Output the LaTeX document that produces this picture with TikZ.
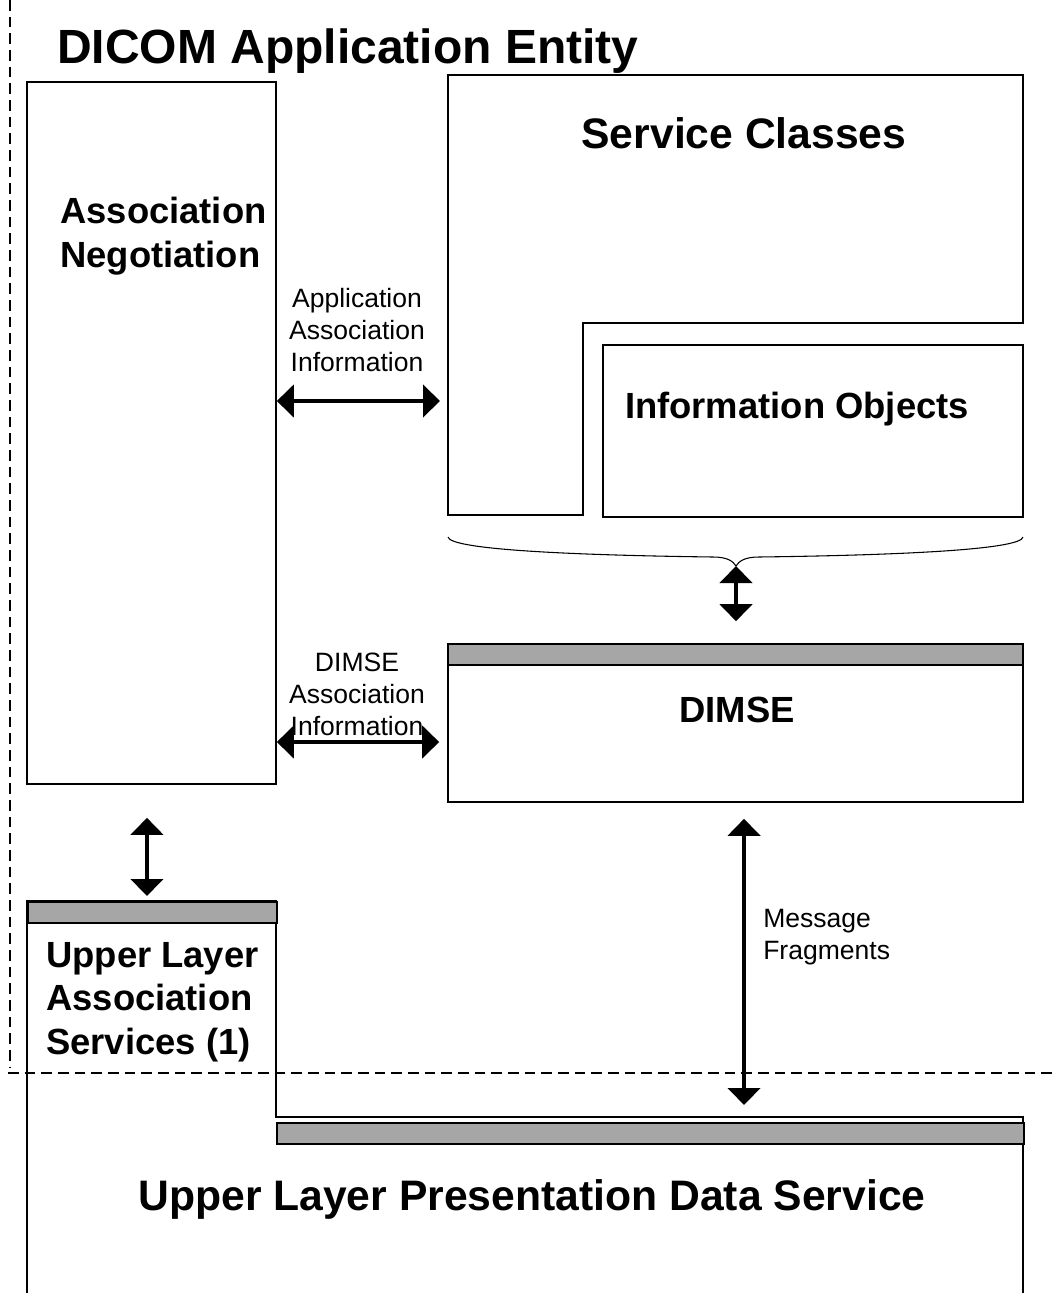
\documentclass[tikz,border=0pt]{standalone}
\usepackage{fontspec}
\setmainfont{Liberation Sans}
\usetikzlibrary{calc}
\usetikzlibrary{arrows.meta}

\definecolor{barfill}{RGB}{166,166,166}
\def\px{0.75pt}
\tikzset{
  box/.style={draw, line width=1.2pt, inner sep=0pt},
  bar/.style={draw, line width=1.2pt, fill=barfill, inner sep=0pt, anchor=north west},
  edge/.style={draw, line width=1.2pt},
  frame/.style={line width=1.1pt, dash pattern=on 8pt off 4.5pt},
  dblarrow/.style={line width=3.5pt, {Triangle[length=12.75pt,width=24pt]}-{Triangle[length=12.75pt,width=24pt]}},
  hugetxt/.style={font=\bfseries\fontsize{36}{43}\selectfont, inner sep=0pt},
  bigtxt/.style={font=\bfseries\fontsize{32}{38}\selectfont, inner sep=0pt},
  midtxt/.style={font=\bfseries\fontsize{27.3}{32.8}\selectfont, inner sep=0pt, align=left},
  smalltxt/.style={font=\fontsize{19.9}{24}\selectfont, inner sep=0pt, align=center}
}

\begin{document}
\begin{tikzpicture}[x=0.75pt,y=-0.75pt]
\useasboundingbox (0,0) rectangle (1055,1293);
\draw[frame] (10,0) -- (10,1068);
\draw[frame] (8,1073) -- (1055,1073);
\node[hugetxt, anchor=base west] (title) at (57,63) {DICOM Application Entity};

\node[box, minimum width=249*\px, minimum height=702*\px] (assoc) at (151.5,433) {};
\node[midtxt, anchor=west] (assoc_t) at (60,236) {Association\\Negotiation};

\coordinate (sc_nw) at (448,75);
\coordinate (sc_w) at (448,401);
\draw[edge] (sc_nw) -- (1023,75) -- (1023,323) -- (583,323) -- (583,515) -- (448,515) -- cycle;
\node[bigtxt] (sc) at (744,133) {Service Classes};
\node[box, minimum width=420*\px, minimum height=172*\px] (io) at (813,431) {};
\node[midtxt] (io_t) at (797,409) {Information Objects};

\coordinate (tip) at (736,566);
\draw[line width=0.8pt] (448,537) .. controls (450,549) and (560,555) .. (713,557)
  .. controls (727,557) and (733,561) .. (tip)
  .. controls (739,561) and (745,557) .. (759,557)
  .. controls (912,555) and (1021,549) .. (1023,537);

\node[box, minimum width=575*\px, minimum height=158*\px] (dimse) at (735.5,723) {};
\node[bar, minimum width=575*\px, minimum height=21*\px] (dimse_bar) at (dimse.north west) {};
\node[midtxt] (dimse_t) at (737,710) {DIMSE};

\draw[dblarrow, shorten >=16.5pt] (tip) -- (tip |- dimse.north);
\draw[dblarrow, shorten >=6pt] ($(assoc.east)+(0,-32)$) -- (sc_w);
\draw[dblarrow, shorten >=6pt] ($(assoc.east)+(0,309)$) -- ($(dimse.west)+(0,19)$);
\node[smalltxt] (app_l) at (357,330) {Application\\Association\\Information};
\node[smalltxt] (dimse_l) at (357,694) {DIMSE\\Association\\Information};

\coordinate (ul_nw) at (27,901);
\coordinate (ul_step) at (276,1117);
\draw[edge] (27,1293) -- (ul_nw) -| (ul_step) -| (1023,1293);
\node[bar, minimum width=249*\px, minimum height=21*\px] (ul_bar) at (ul_nw) {};
\node[bar, minimum width=747*\px, minimum height=21*\px] (pd_bar) at (276,1122) {};
\node[midtxt, anchor=west] (ul_t) at (46,1002) {Upper Layer\\Association\\Services (1)};
\node[bigtxt] (pd_t) at (532,1199) {Upper Layer Presentation Data Service};

\draw[dblarrow, shorten <=24.75pt, shorten >=3.75pt] ([xshift=-3.4pt]assoc.south) -- ([xshift=-3.4pt]assoc.south |- ul_bar.north);
\draw[dblarrow, shorten <=12pt, shorten >=9pt] ([xshift=6.4pt]dimse.south) -- ([xshift=6.4pt]dimse.south |- ul_step);
\node[smalltxt, align=left, anchor=west] (msg_l) at (763,937) {Message\\Fragments};
\end{tikzpicture}
\end{document}
